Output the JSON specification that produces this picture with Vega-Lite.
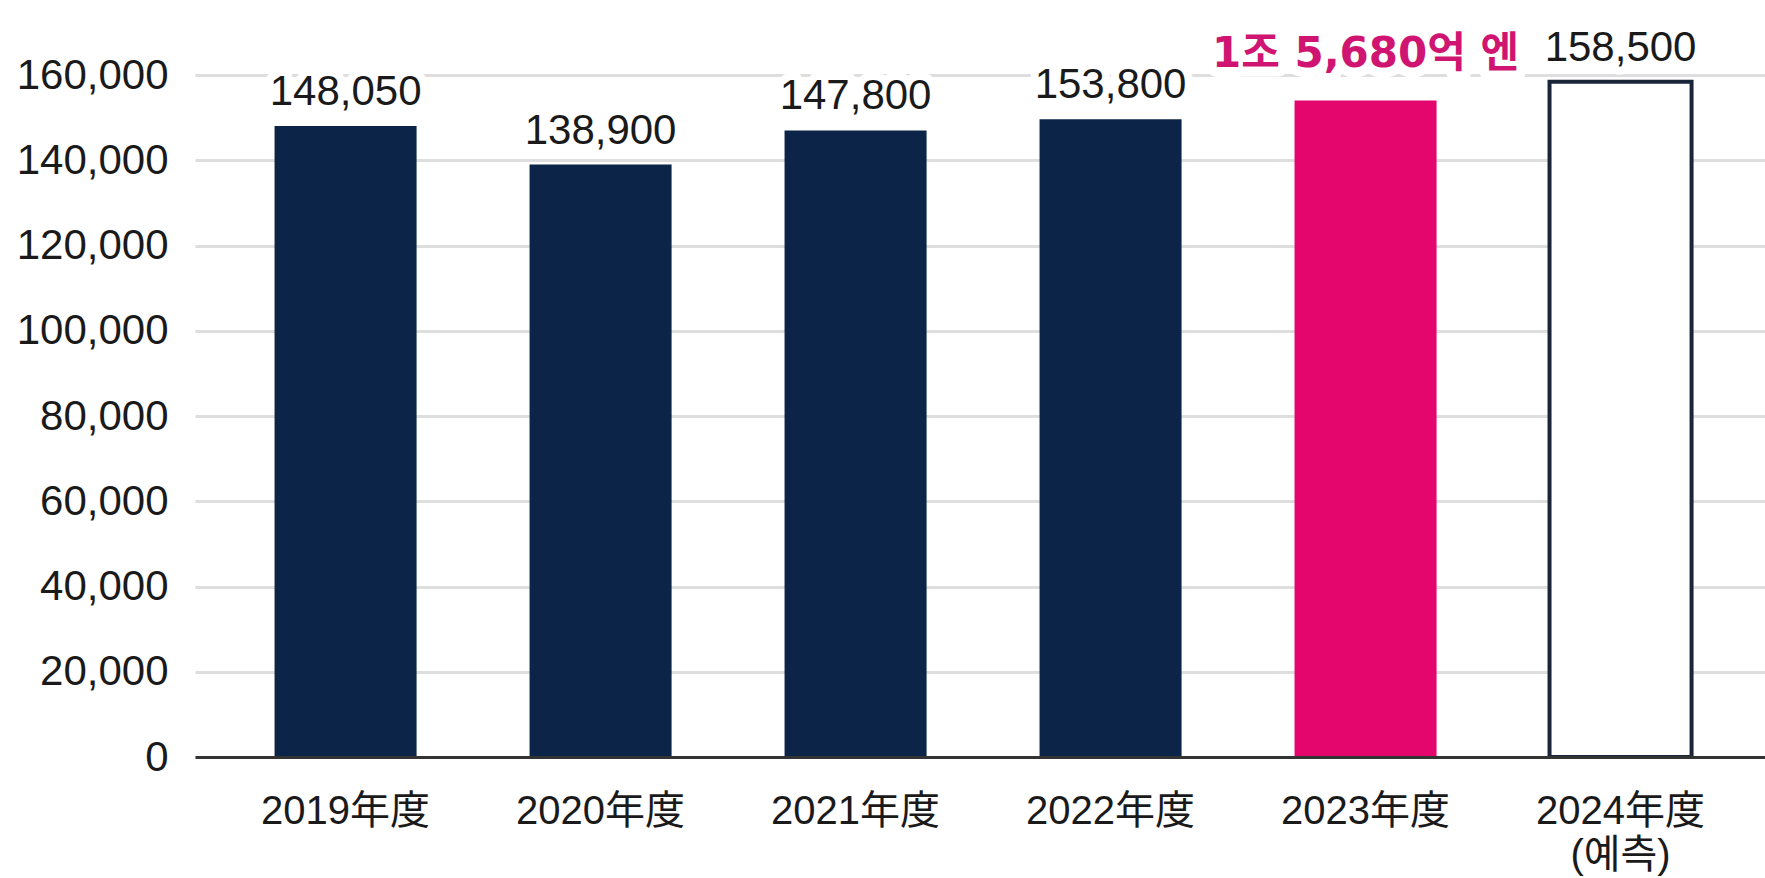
{
  "$schema": "https://vega.github.io/schema/vega-lite/v6.json",
  "autosize": {"type": "none"},
  "padding": {"left": 195, "top": 75, "right": 0, "bottom": 121},
  "width": 1570,
  "height": 682,
  "background": "white",
  "config": {
    "font": "Liberation Sans, 'Noto Sans CJK KR'",
    "view": {"stroke": null}
  },
  "data": {
    "values": [
      {"year": "2019年度", "value": 148050, "label": "148,050", "kind": "actual"},
      {"year": "2020年度", "value": 139000, "label": "138,900", "kind": "actual"},
      {"year": "2021年度", "value": 147000, "label": "147,800", "kind": "actual"},
      {"year": "2022年度", "value": 149600, "label": "153,800", "kind": "actual"},
      {"year": "2023年度", "value": 154000, "label": "1조 5,680억 엔", "kind": "highlight"},
      {"year": "2024年度|(예측)", "value": 158400, "label": "158,500", "kind": "forecast"}
    ]
  },
  "encoding": {
    "x": {
      "field": "year",
      "type": "nominal",
      "sort": null,
      "scale": {"paddingInner": 0.443, "paddingOuter": 0.3, "align": 0.52},
      "axis": {
        "title": null,
        "labelAngle": 0,
        "labelFontSize": 40,
        "labelColor": "#1a1a1a",
        "labelPadding": 34,
        "labelBaseline": "top",
        "labelLineHeight": 44,
        "labelExpr": "split(datum.label, '|')",
        "ticks": false,
        "tickSize": 0,
        "domainColor": "#333333",
        "domainWidth": 3,
        "grid": false,
        "zindex": 1
      }
    },
    "y": {
      "field": "value",
      "type": "quantitative",
      "scale": {"domain": [0, 160000], "nice": false},
      "axis": {
        "title": null,
        "values": [0, 20000, 40000, 60000, 80000, 100000, 120000, 140000, 160000],
        "format": ",d",
        "labelFontSize": 42,
        "labelColor": "#1a1a1a",
        "labelPadding": 27,
        "ticks": false,
        "tickSize": 0,
        "domain": false,
        "gridColor": "#dedede",
        "gridWidth": 3
      }
    }
  },
  "layer": [
    {
      "transform": [{"filter": "datum.kind != 'forecast'"}],
      "mark": {"type": "bar"},
      "encoding": {
        "color": {
          "field": "kind",
          "type": "nominal",
          "scale": {"domain": ["actual", "highlight"], "range": ["#0c2447", "#e4056d"]},
          "legend": null
        }
      }
    },
    {
      "transform": [{"filter": "datum.kind == 'forecast'"}],
      "mark": {"type": "bar", "fill": "#ffffff", "stroke": "#1b2539", "strokeWidth": 4}
    },
    {
      "transform": [{"filter": "datum.kind != 'highlight'"}],
      "mark": {"type": "text", "dy": -21, "baseline": "alphabetic", "fontSize": 42, "fill": "#ffffff", "stroke": "#ffffff", "strokeWidth": 16, "strokeJoin": "round"},
      "encoding": {"text": {"field": "label"}}
    },
    {
      "transform": [{"filter": "datum.kind != 'highlight'"}],
      "mark": {"type": "text", "dy": -21, "baseline": "alphabetic", "fontSize": 42, "fill": "#1a1a1a"},
      "encoding": {"text": {"field": "label"}}
    },
    {
      "transform": [{"filter": "datum.kind == 'highlight'"}],
      "mark": {"type": "text", "dy": -34, "baseline": "alphabetic", "font": "DejaVu Sans, 'Noto Sans CJK KR'", "fontSize": 42, "fontWeight": "bold", "fill": "#ffffff", "stroke": "#ffffff", "strokeWidth": 20, "strokeJoin": "round"},
      "encoding": {"text": {"field": "label"}}
    },
    {
      "transform": [{"filter": "datum.kind == 'highlight'"}],
      "mark": {"type": "text", "dy": -34, "baseline": "alphabetic", "font": "DejaVu Sans, 'Noto Sans CJK KR'", "fontSize": 42, "fontWeight": "bold", "fill": "#cf1571"},
      "encoding": {"text": {"field": "label"}}
    }
  ]
}
